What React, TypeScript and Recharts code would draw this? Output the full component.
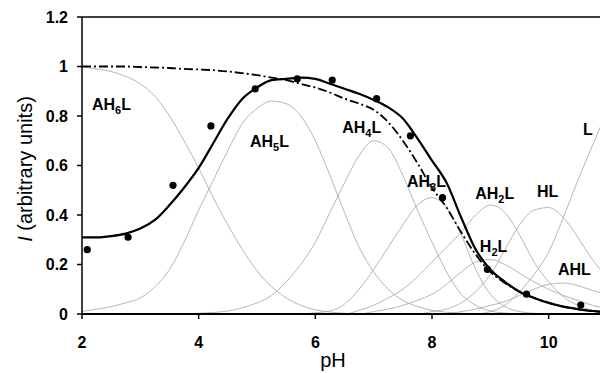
import React from 'react'
import { ComposedChart, Line, Scatter, XAxis, YAxis, ReferenceLine, ReferenceDot } from 'recharts'

// pH grid shared by all calculated curves
const pH = [
  2, 2.25, 2.5, 2.75, 3, 3.25, 3.5, 3.75, 4, 4.25, 4.5, 4.75, 5, 5.25, 5.5, 5.75, 6, 6.25, 6.5,
  6.75, 7, 7.25, 7.5, 7.75, 8, 8.25, 8.5, 8.75, 9, 9.25, 9.5, 9.75, 10, 10.25, 10.5, 10.75, 11,
]

// species fractions (thin grey curves)
const ah6l = [
  1, 0.99, 0.98, 0.96, 0.93, 0.88, 0.8, 0.7, 0.59, 0.47, 0.36, 0.26, 0.175, 0.11, 0.065, 0.035, 0.017, 0.008, 0.003,
  0, 0, 0, 0, 0, 0, 0, 0, 0, 0, 0, 0, 0, 0, 0, 0, 0, 0,
]
const ah5l = [
  0.01, 0.02, 0.03, 0.045, 0.065, 0.11, 0.18, 0.29, 0.42, 0.54, 0.66, 0.77, 0.83, 0.86, 0.85, 0.8, 0.7, 0.56, 0.41,
  0.27, 0.17, 0.1, 0.055, 0.03, 0.015, 0.007, 0.003, 0, 0, 0, 0, 0, 0, 0, 0, 0, 0,
]
const ah4l = [
  0, 0, 0, 0, 0, 0, 0, 0, 0.003, 0.006, 0.012, 0.025, 0.045, 0.075, 0.13, 0.2, 0.29, 0.41, 0.53,
  0.64, 0.7, 0.67, 0.56, 0.42, 0.29, 0.17, 0.08, 0.035, 0.012, 0.004, 0, 0, 0, 0, 0, 0, 0,
]
const ah3l = [
  0, 0, 0, 0, 0, 0, 0, 0, 0, 0, 0, 0, 0, 0, 0, 0, 0.005, 0.012, 0.04,
  0.1, 0.18, 0.27, 0.36, 0.44, 0.47, 0.43, 0.32, 0.18, 0.08, 0.03, 0.01, 0.003, 0, 0, 0, 0, 0,
]
const ah2l = [
  0, 0, 0, 0, 0, 0, 0, 0, 0, 0, 0, 0, 0, 0, 0, 0, 0, 0, 0,
  0.015, 0.035, 0.065, 0.1, 0.15, 0.21, 0.27, 0.33, 0.4, 0.44, 0.41, 0.32, 0.21, 0.13, 0.07, 0.035, 0.015, 0.006,
]
const h2l = [
  0, 0, 0, 0, 0, 0, 0, 0, 0, 0, 0, 0, 0, 0, 0, 0, 0, 0, 0,
  0, 0.01, 0.02, 0.035, 0.055, 0.08, 0.12, 0.17, 0.21, 0.22, 0.2, 0.165, 0.13, 0.1, 0.075, 0.055, 0.035, 0.02,
]
const hl = [
  0, 0, 0, 0, 0, 0, 0, 0, 0, 0, 0, 0, 0, 0, 0, 0, 0, 0, 0,
  0, 0, 0, 0, 0, 0.01, 0.02, 0.045, 0.09, 0.16, 0.26, 0.36, 0.42, 0.43, 0.39, 0.31, 0.22, 0.15,
]
const ahl = [
  0, 0, 0, 0, 0, 0, 0, 0, 0, 0, 0, 0, 0, 0, 0, 0, 0, 0, 0,
  0, 0, 0, 0, 0, 0, 0, 0.01, 0.02, 0.035, 0.05, 0.075, 0.1, 0.12, 0.125, 0.115, 0.095, 0.08,
]
const lFree = [
  0, 0, 0, 0, 0, 0, 0, 0, 0, 0, 0, 0, 0, 0, 0, 0, 0, 0, 0,
  0, 0, 0, 0, 0, 0, 0, 0, 0, 0.01, 0.035, 0.09, 0.16, 0.25, 0.39, 0.54, 0.68, 0.82,
]

// calculated intensity (thick) and total (dash-dot)
const fitted = [
  0.31, 0.31, 0.315, 0.325, 0.345, 0.38, 0.44, 0.51, 0.59, 0.69, 0.79, 0.87, 0.915, 0.945, 0.95, 0.955, 0.95, 0.93, 0.91,
  0.89, 0.865, 0.835, 0.79, 0.71, 0.62, 0.53, 0.39, 0.26, 0.18, 0.13, 0.09, 0.065, 0.045, 0.03, 0.02, 0.012, 0.008,
]
const dashDot = [
  1, 1, 1, 1, 0.998, 0.996, 0.994, 0.99, 0.988, 0.985, 0.98, 0.973, 0.965, 0.955, 0.945, 0.93, 0.915, 0.895, 0.87,
  0.85, 0.825, 0.775, 0.7, 0.61, 0.51, 0.43, 0.33, 0.24, 0.17, 0.125, 0.09, 0.065, 0.045, 0.03, 0.02, 0.012, 0.008,
]

// measured points
const measPH = [2.09, 2.79, 3.56, 4.21, 4.97, 5.69, 6.29, 7.05, 7.63, 8.18, 8.95, 9.62, 10.55]
const measI = [0.26, 0.31, 0.52, 0.76, 0.91, 0.95, 0.945, 0.87, 0.72, 0.47, 0.18, 0.08, 0.036]

// species labels: [main, subscript, tail], anchored at (pH, I)
const speciesLabels = [
  { pre: 'AH', sub: '6', post: 'L', x: 2.17, y: 0.824 },
  { pre: 'AH', sub: '5', post: 'L', x: 4.88, y: 0.675 },
  { pre: 'AH', sub: '4', post: 'L', x: 6.46, y: 0.731 },
  { pre: 'AH', sub: '3', post: 'L', x: 7.57, y: 0.513 },
  { pre: 'AH', sub: '2', post: 'L', x: 8.74, y: 0.465 },
  { pre: 'HL', sub: '', post: '', x: 9.8, y: 0.473 },
  { pre: 'H', sub: '2', post: 'L', x: 8.82, y: 0.25 },
  { pre: 'AHL', sub: '', post: '', x: 10.16, y: 0.158 },
  { pre: 'L', sub: '', post: '', x: 10.59, y: 0.723 },
]

const xTicks = [2, 4, 6, 8, 10]
const yTicks = [0, 0.2, 0.4, 0.6, 0.8, 1, 1.2]

const speciesKeys = ['ah6l', 'ah5l', 'ah4l', 'ah3l', 'ah2l', 'h2l', 'hl', 'ahl', 'lFree']

const rows = pH.map((p, i) => ({
  pH: p,
  ah6l: ah6l[i],
  ah5l: ah5l[i],
  ah4l: ah4l[i],
  ah3l: ah3l[i],
  ah2l: ah2l[i],
  h2l: h2l[i],
  hl: hl[i],
  ahl: ahl[i],
  lFree: lFree[i],
  fitted: fitted[i],
  dashDot: dashDot[i],
}))

const points = measPH.map((p, i) => ({ pH: p, I: measI[i] }))

const FONT = '"Liberation Sans", Arial, sans-serif'

const tickStyle = { fill: '#000', fontSize: 16, fontWeight: 700, fontFamily: FONT }

const PhTitle = () => (
  <text x={333} y={367} textAnchor="middle" fontSize={20} fontFamily={FONT} fill="#000">
    pH
  </text>
)

const YTitle = () => (
  <text transform="rotate(-90)" x={-169} y={32} textAnchor="middle" fontSize={20} fontFamily={FONT} fill="#000">
    <tspan fontStyle="italic">I</tspan>
    <tspan> (arbitrary units)</tspan>
  </text>
)

export default function App() {
  return (
    <div style={{ position: 'absolute', left: 0, top: 0, background: '#fff' }}>
      <ComposedChart width={600} height={373} data={rows} margin={{ top: 17, right: 0, bottom: 0, left: 0 }}>
        <XAxis
          type="number"
          dataKey="pH"
          domain={[2, 10.88]}
          allowDataOverflow
          ticks={xTicks}
          height={59}
          tickSize={5}
          tickMargin={18}
          tick={tickStyle}
          axisLine={{ stroke: '#000', strokeWidth: 2 }}
          tickLine={{ stroke: '#000', strokeWidth: 1.5 }}
          label={<PhTitle />}
        />
        <YAxis
          type="number"
          domain={[0, 1.2]}
          ticks={yTicks}
          width={82}
          tickSize={5}
          tickMargin={9}
          tick={tickStyle}
          axisLine={{ stroke: '#000', strokeWidth: 1.5 }}
          tickLine={{ stroke: '#000', strokeWidth: 1.5 }}
          label={<YTitle />}
        />
        <ReferenceLine y={1.2} stroke="#000" strokeWidth={1.5} />
        {speciesKeys.map((k) => (
          <Line
            key={k}
            type="monotone"
            dataKey={k}
            stroke="#a3a3a3"
            strokeWidth={0.8}
            dot={false}
            isAnimationActive={false}
          />
        ))}
        <Line
          type="monotone"
          dataKey="dashDot"
          stroke="#000"
          strokeWidth={1.8}
          strokeDasharray="9 3 2 3"
          dot={false}
          isAnimationActive={false}
        />
        <Line type="monotone" dataKey="fitted" stroke="#000" strokeWidth={2.2} dot={false} isAnimationActive={false} />
        <Scatter
          data={points}
          dataKey="I"
          isAnimationActive={false}
          shape={(p: any) => <circle cx={p.cx} cy={p.cy} r={3.6} fill="#000" />}
        />
        {speciesLabels.map((s) => (
          <ReferenceDot
            key={s.pre + s.sub + s.post}
            x={s.x}
            y={s.y}
            r={0}
            shape={(p: any) => (
              <text x={p.cx} y={p.cy} fontSize={16} fontWeight={700} fontFamily={FONT} fill="#000">
                <tspan>{s.pre}</tspan>
                {s.sub && (
                  <tspan dy={4} fontSize={11}>
                    {s.sub}
                  </tspan>
                )}
                {s.post && <tspan dy={s.sub ? -4 : 0}>{s.post}</tspan>}
              </text>
            )}
          />
        ))}
      </ComposedChart>
    </div>
  )
}
